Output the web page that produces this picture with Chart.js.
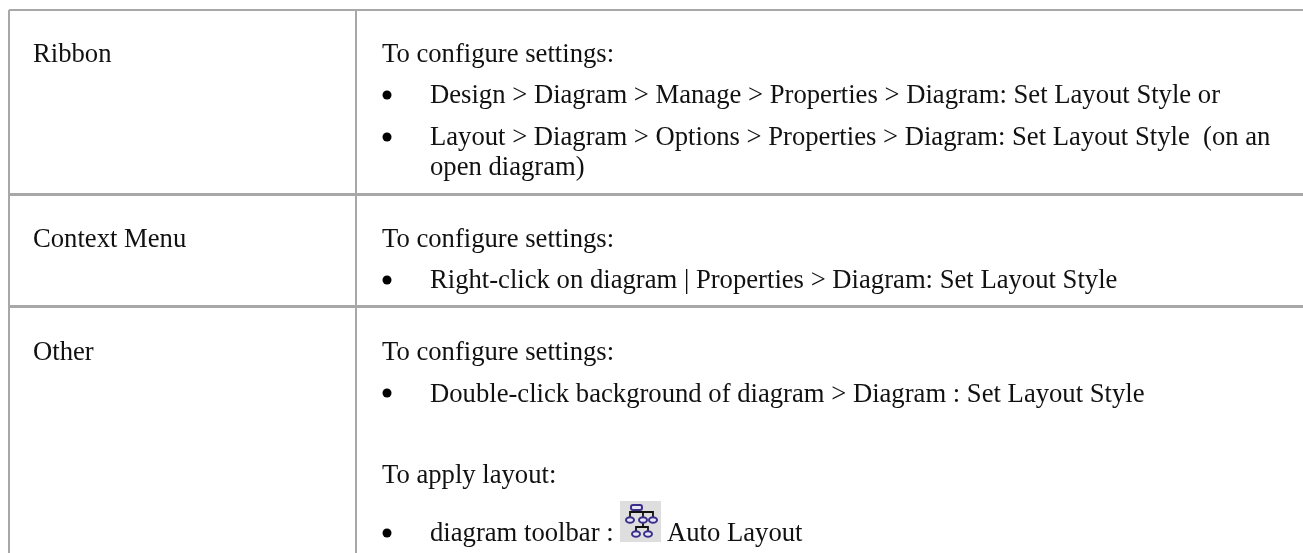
<!DOCTYPE html>
<html>
<head>
<meta charset="utf-8">
<title>Set Layout Style</title>
<script src="https://cdn.jsdelivr.net/npm/chart.js@4"></script>
<style>
  html, body { margin: 0; padding: 0; background: #ffffff; }
  canvas { display: block; }
</style>
</head>
<body>
<canvas id="tableChart" width="1303" height="553"></canvas>
<script>
// table content
const rowLabels = ['Ribbon', 'Context Menu', 'Other'];
const introLines = ['To configure settings:', 'To configure settings:', 'To configure settings:', 'To apply layout:'];
const bulletLines = [
  'Design > Diagram > Manage > Properties > Diagram: Set Layout Style or',
  'Layout > Diagram > Options > Properties > Diagram: Set Layout Style  (on an',
  'Right-click on diagram | Properties > Diagram: Set Layout Style',
  'Double-click background of diagram > Diagram : Set Layout Style',
  'diagram toolbar :'
];
const wrappedLine = 'open diagram)';
const iconCaption = 'Auto Layout';

// where things sit, in page pixels (scales run 1:1 with the page)
const colEdges = [9, 356];
const rowEdges = [10, 194, 306];
const rowLineWidths = [2, 3, 3];
const labelBaselines = [62, 247, 360];
const introBaselines = [62, 247, 360, 483];
const bulletBaselines = [103, 145, 288, 402, 541];
const bulletCentres = [95, 137, 280, 393, 533];
const bulletX = 387;

const FONT = '26.67px "Liberation Serif"';
const INK = '#111111';

const tableText = {
  id: 'tableText',
  afterDatasetsDraw(chart) {
    const { ctx, scales: { x, y } } = chart;
    ctx.save();
    ctx.font = FONT;
    ctx.fillStyle = INK;
    ctx.textBaseline = 'alphabetic';
    const put = (s, px, py) => ctx.fillText(s, x.getPixelForValue(px), y.getPixelForValue(py));
    rowLabels.forEach((s, i) => put(s, 33, labelBaselines[i]));
    introLines.forEach((s, i) => put(s, 382, introBaselines[i]));
    bulletLines.forEach((s, i) => put(s, 430, bulletBaselines[i]));
    put(wrappedLine, 430, 175);
    put(iconCaption, 667, 541);
    ctx.restore();
    drawIcon(ctx, x.getPixelForValue(620), y.getPixelForValue(501));
  }
};

// small org-chart toolbar icon
function drawIcon(ctx, ox, oy) {
  ctx.save();
  ctx.translate(ox, oy);
  ctx.fillStyle = '#dedede';
  ctx.fillRect(0, 0, 41, 41);
  ctx.filter = 'blur(0.5px)';
  ctx.strokeStyle = '#111111';
  ctx.lineWidth = 1.8;
  ctx.beginPath();
  ctx.moveTo(16, 9); ctx.lineTo(16, 11);
  ctx.moveTo(10, 16); ctx.lineTo(10, 11); ctx.lineTo(33, 11); ctx.lineTo(33, 16);
  ctx.moveTo(23, 11); ctx.lineTo(23, 26);
  ctx.moveTo(16, 30); ctx.lineTo(16, 26); ctx.lineTo(28, 26); ctx.lineTo(28, 30);
  ctx.stroke();
  ctx.strokeStyle = '#3b2f8c';
  ctx.fillStyle = '#e6e6f6';
  ctx.lineWidth = 2;
  ctx.beginPath();
  ctx.roundRect(11, 4, 11, 5, 2);
  ctx.fill(); ctx.stroke();
  [[10, 19], [23, 19], [33, 19], [16, 33], [28, 33]].forEach(([cx, cy]) => {
    ctx.beginPath();
    ctx.ellipse(cx, cy, 4, 2.8, 0, 0, Math.PI * 2);
    ctx.fill(); ctx.stroke();
  });
  ctx.restore();
}

const chart = new Chart(document.getElementById('tableChart'), {
  type: 'scatter',
  data: {
    datasets: [{
      label: 'bullets',
      data: bulletCentres.map(v => ({ x: bulletX, y: v })),
      pointRadius: 4.5,
      pointHoverRadius: 4.5,
      pointBackgroundColor: '#000000',
      pointBorderWidth: 0
    }]
  },
  options: {
    responsive: false,
    animation: false,
    events: [],
    layout: { autoPadding: false, padding: { left: 9, top: 10 } },
    plugins: { legend: { display: false }, tooltip: { enabled: false } },
    scales: {
      x: {
        type: 'linear',
        min: 9,
        max: 1303,
        afterBuildTicks: axis => { axis.ticks = colEdges.map(v => ({ value: v })); },
        ticks: { display: false },
        grid: { color: '#a8a8a8', lineWidth: 2, drawTicks: false },
        border: { display: false }
      },
      y: {
        type: 'linear',
        reverse: true,
        min: 10,
        max: 553,
        afterBuildTicks: axis => { axis.ticks = rowEdges.map(v => ({ value: v })); },
        ticks: { display: false },
        grid: { color: '#a8a8a8', lineWidth: ctx => rowLineWidths[ctx.index], drawTicks: false },
        border: { display: false }
      }
    }
  },
  plugins: [tableText]
});
</script>
</body>
</html>
